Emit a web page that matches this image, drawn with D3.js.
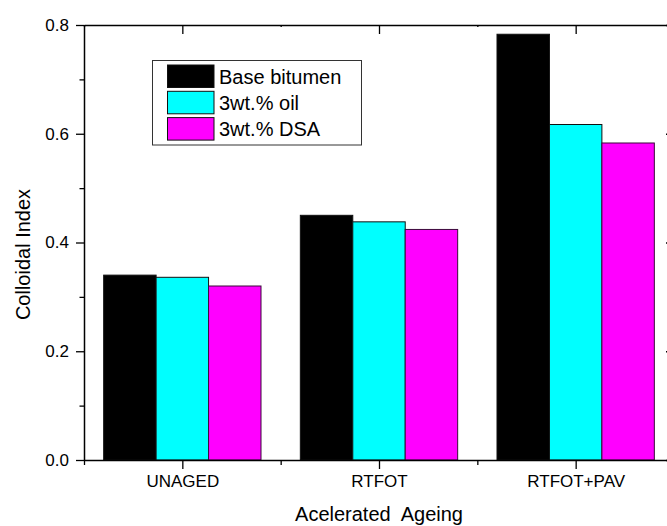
<!DOCTYPE html>
<html>
<head>
<meta charset="utf-8">
<script src="https://cdn.jsdelivr.net/npm/d3@7"></script>
<style>
  html, body { margin: 0; padding: 0; background: #fff; }
  svg { display: block; font-family: Arial, "Liberation Sans", sans-serif; }
</style>
</head>
<body>
<svg id="chart" width="667" height="526"></svg>
<script>
// Colloidal index of bitumen samples after accelerated ageing
const categories = ["UNAGED", "RTFOT", "RTFOT+PAV"];
const seriesNames = ["Base bitumen", "3wt.% oil", "3wt.% DSA"];
const baseBitumen = [0.340, 0.450, 0.783];
const oil3 = [0.336, 0.438, 0.617];
const dsa3 = [0.320, 0.424, 0.583];
const seriesColors = ["#000000", "#00ffff", "#ff00ff"];
const yTicks = [0.0, 0.2, 0.4, 0.6, 0.8];
const yMinorTicks = [0.1, 0.3, 0.5, 0.7];
const xMinorTicks = [0.5, 1.5, 2.5, 3.5];

const seriesValues = [baseBitumen, oil3, dsa3];

const svg = d3.select("#chart");
const plotLeft = 84, plotRight = 674, plotTop = 25, plotBottom = 460;

const x = d3.scaleLinear().domain([0.5, 3.5]).range([plotLeft, plotRight]);
const y = d3.scaleLinear().domain([0, 0.8]).range([plotBottom, plotTop]);
// bar offsets inside each category, in category units
const inner = d3.scaleBand().domain(d3.range(seriesNames.length)).range([-0.4, 0.4]);

// bars
const g = svg.append("g");
categories.forEach((cat, ci) => {
  seriesValues.forEach((vals, si) => {
    const x0 = x(ci + 1 + inner(si));
    const x1 = x(ci + 1 + inner(si) + inner.bandwidth());
    g.append("rect")
      .attr("x", x0)
      .attr("y", y(vals[ci]))
      .attr("width", x1 - x0)
      .attr("height", y(0) - y(vals[ci]))
      .attr("fill", seriesColors[si])
      .attr("stroke", si === 2 ? "#3a0a3a" : "#111")
      .attr("stroke-width", 1);
  });
});

// axes
const tickFmt = d3.format(".1f");
const axisStroke = 1.5;

// left axis
const yAxis = svg.append("g").attr("transform", `translate(${plotLeft},0)`)
  .call(d3.axisLeft(y).tickValues(yTicks).tickFormat(tickFmt).tickSize(8).tickSizeOuter(0).tickPadding(7));
yAxis.select(".domain").attr("stroke-width", axisStroke);
yAxis.selectAll(".tick line").attr("stroke-width", 1.3);
yAxis.selectAll("text").attr("font-size", "17px").attr("fill", "#000");
svg.append("g").attr("transform", `translate(${plotLeft},0)`)
  .call(d3.axisLeft(y).tickValues(yMinorTicks).tickFormat("").tickSize(4.5).tickSizeOuter(0))
  .call(a => a.select(".domain").remove())
  .selectAll("line").attr("stroke-width", 1.3);

// right axis (inward ticks)
const yRight = svg.append("g").attr("transform", `translate(${plotRight},0)`)
  .call(d3.axisLeft(y).tickValues(yTicks).tickFormat("").tickSize(-8).tickSizeOuter(0));
yRight.select(".domain").attr("stroke-width", axisStroke);
yRight.selectAll(".tick line").attr("transform", "translate(-8,0)").attr("stroke-width", 1.3);

// bottom axis
const xAxis = svg.append("g").attr("transform", `translate(0,${plotBottom})`)
  .call(d3.axisBottom(x).tickValues([1, 2, 3]).tickFormat(d => categories[d - 1]).tickSize(9).tickSizeOuter(0).tickPadding(6));
xAxis.select(".domain").attr("stroke-width", axisStroke);
xAxis.selectAll(".tick line").attr("stroke-width", 1.3);
xAxis.selectAll("text").attr("font-size", "17px").attr("fill", "#000");
svg.append("g").attr("transform", `translate(0,${plotBottom})`)
  .call(d3.axisBottom(x).tickValues(xMinorTicks).tickFormat("").tickSize(5).tickSizeOuter(0))
  .call(a => a.select(".domain").remove())
  .selectAll("line").attr("stroke-width", 1.3);

// top axis (inward ticks)
const xTop = svg.append("g").attr("transform", `translate(0,${plotTop})`)
  .call(d3.axisBottom(x).tickValues([1, 2, 3]).tickFormat("").tickSize(9).tickSizeOuter(0));
xTop.select(".domain").attr("stroke-width", axisStroke);
xTop.selectAll(".tick line").attr("stroke-width", 1.3);
svg.append("g").attr("transform", `translate(0,${plotTop})`)
  .call(d3.axisBottom(x).tickValues(xMinorTicks).tickFormat("").tickSize(2).tickSizeOuter(0))
  .call(a => a.select(".domain").remove())
  .selectAll("line").attr("stroke-width", 1.3);

// axis titles
svg.append("text")
  .attr("transform", `translate(30,${(plotTop + plotBottom) / 2 + 12}) rotate(-90)`)
  .attr("text-anchor", "middle")
  .attr("font-size", "20px")
  .attr("fill", "#000")
  .text("Colloidal Index");

svg.append("text")
  .attr("x", 379)
  .attr("y", 521)
  .attr("text-anchor", "middle")
  .attr("font-size", "20px")
  .attr("fill", "#000")
  .style("white-space", "pre")
  .attr("xml:space", "preserve")
  .text("Acelerated  Ageing");

// legend
const legend = svg.append("g");
legend.append("rect")
  .attr("x", 152.5).attr("y", 60.5)
  .attr("width", 209).attr("height", 84.5)
  .attr("fill", "#fff").attr("stroke", "#333").attr("stroke-width", 1);
seriesNames.forEach((name, i) => {
  const rowY = 65 + i * 26.3;
  legend.append("rect")
    .attr("x", 167.5).attr("y", rowY)
    .attr("width", 46.5).attr("height", 22.5)
    .attr("fill", seriesColors[i])
    .attr("stroke", "#111").attr("stroke-width", 1);
  legend.append("text")
    .attr("x", 219).attr("y", rowY + 18.5)
    .attr("font-size", "20px")
    .attr("fill", "#000")
    .text(name);
});
</script>
</body>
</html>
